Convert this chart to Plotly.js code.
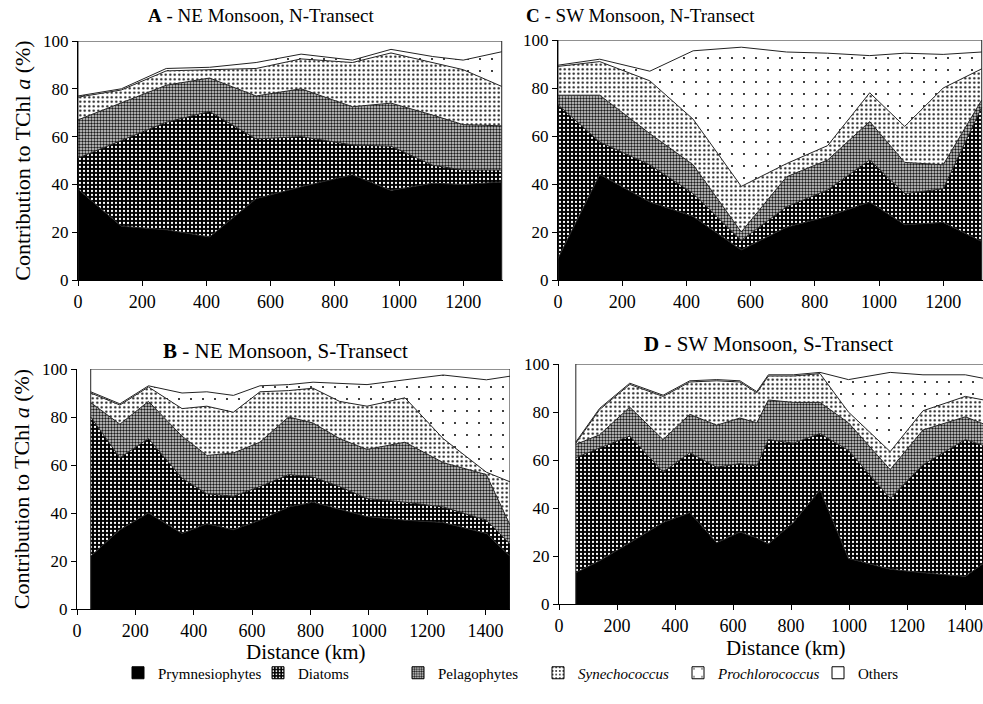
<!DOCTYPE html>
<html>
<head>
<meta charset="utf-8">
<script src="https://cdn.plot.ly/plotly-3.0.1.min.js"></script>
<style>html,body{margin:0;padding:0;background:#fff;}#chart{width:983px;height:704px;}</style>
</head>
<body>
<div id="chart"></div>
<script>
// ---------- DATA (contribution to TChl a, %) ----------
const groups = ["Prymnesiophytes", "Diatoms", "Pelagophytes", "<i>Synechococcus</i>", "<i>Prochlorococcus</i>", "Others"];

// A - NE Monsoon, N-Transect
const distA = [0, 135, 275, 410, 555, 695, 855, 975, 1105, 1200, 1320];
const prymA = [38, 22.5, 21, 18, 34, 39, 44, 37.5, 40.5, 40, 41];
const diatA = [13, 36, 45, 52.5, 25, 21, 12.5, 18.5, 7.5, 6, 5];
const pelaA = [16, 15.5, 15.5, 14, 18, 20, 16, 18, 21, 19, 18.5];
const synA  = [9.5, 5.5, 6, 3.5, 11.5, 12.5, 18.5, 21, 22, 23, 16.5];
const proA  = [0.5, 0.5, 1, 1, 2.5, 2, 1, 1.5, 2.5, 4, 14.5];
const othA  = [23, 20, 11.5, 11, 9, 5.5, 8, 3.5, 6.5, 8, 4.5];

// C - SW Monsoon, N-Transect
const distC = [0, 130, 286, 421, 571, 712, 840, 971, 1080, 1200, 1320];
const prymC = [9, 44, 32.5, 26.5, 12.5, 22, 26.5, 32.5, 23, 24, 16];
const diatC = [64, 13.5, 15.5, 9.5, 4, 8.5, 11, 17.5, 13, 14, 56];
const pelaC = [4, 19.5, 13, 12, 3.5, 12.5, 12.5, 16, 13, 10, 3];
const synC  = [12, 14, 22, 19, 19, 5.5, 6, 12, 15, 32, 13];
const proC  = [0.5, 1, 4, 28.5, 58, 46.5, 38.5, 15.5, 30.5, 14, 7];
const othC  = [10.5, 8, 13, 4.5, 3, 5, 5.5, 6.5, 5.5, 6, 5];

// B - NE Monsoon, S-Transect
const distB = [47, 147, 245, 360, 445, 536, 627, 725, 809, 900, 994, 1124, 1255, 1403, 1484];
const prymB = [22, 33, 40, 31.5, 35.5, 33, 37, 42.5, 44.5, 41.5, 38.5, 37, 36, 31.5, 22];
const diatB = [58, 30, 31, 23, 12.5, 14, 14, 13.5, 10.5, 9.5, 7.5, 7.5, 6.5, 5.5, 5];
const pelaB = [6, 14, 15.5, 17.5, 16, 18, 18.5, 24, 22.5, 20, 20.5, 25, 18.5, 19, 8];
const synB  = [4, 8, 6, 11.5, 20.5, 17, 21, 11, 14.5, 15.5, 18, 18.5, 10, 1, 18];
const proB  = [0.5, 0.5, 0.5, 6.5, 6, 7, 2.5, 2.5, 2.5, 7.5, 9, 7.5, 26.5, 38.5, 44];
const othB  = [9.5, 14.5, 7, 10, 9.5, 11, 7, 6.5, 5.5, 6, 6.5, 4.5, 2.5, 4.5, 3];

// D - SW Monsoon, S-Transect
const distD = [58, 140, 244, 359, 451, 544, 624, 682, 722, 808, 900, 998, 1142, 1255, 1401, 1465];
const prymD = [13, 18, 25.5, 34, 38, 25.5, 30, 27.5, 25, 34, 47.5, 19, 14.5, 13, 11.5, 17];
const diatD = [48, 47, 44.5, 21, 25, 31.5, 28.5, 30, 43.5, 33, 23.5, 45, 29.5, 45, 57, 49];
const pelaD = [5.5, 5.5, 12, 13.5, 16, 17.5, 19, 18, 16.5, 17, 13, 11.5, 12, 14.5, 9.5, 9];
const synD  = [0.5, 10.5, 9.5, 18, 13.5, 18.5, 15, 12.5, 10, 11, 12, 4.5, 7.5, 8, 8.5, 10];
const proD  = [0.5, 0.5, 0.5, 0.5, 0.5, 0.5, 0.5, 0.5, 0.5, 0.5, 0.5, 13.5, 33, 15, 9, 9];
const othD  = [32.5, 18.5, 8, 13, 7, 6.5, 7, 11.5, 4.5, 4.5, 3.5, 6.5, 3.5, 4.5, 4.5, 6];

const xTicks = [0, 200, 400, 600, 800, 1000, 1200, 1400];
const yTicks = [0, 20, 40, 60, 80, 100];

// ---------- STYLES ----------
const W = 983, H = 704;
const serif = "Liberation Serif, Times New Roman, serif";
const pats = [
  {color: "#000000", pattern: null},
  {color: "#000000", pattern: {shape: ".", bgcolor: "#000000", fgcolor: "#ffffff", size: 4, solidity: 0.25}},
  {color: "#888888", pattern: {shape: ".", bgcolor: "#dcdcdc", fgcolor: "#1a1a1a", size: 3, solidity: 0.5}},
  {color: "#cccccc", pattern: {shape: ".", bgcolor: "#ffffff", fgcolor: "#111111", size: 4.5, solidity: 0.2}},
  {color: "#ffffff", pattern: {shape: ".", bgcolor: "#ffffff", fgcolor: "#111111", size: 12, solidity: 0.025}},
  {color: "#ffffff", pattern: null}
];

const panels = [
  {id: "A", xa: "x",  ya: "y",  dist: distA, series: [prymA, diatA, pelaA, synA, proA, othA]},
  {id: "C", xa: "x2", ya: "y2", dist: distC, series: [prymC, diatC, pelaC, synC, proC, othC]},
  {id: "B", xa: "x3", ya: "y3", dist: distB, series: [prymB, diatB, pelaB, synB, proB, othB]},
  {id: "D", xa: "x4", ya: "y4", dist: distD, series: [prymD, diatD, pelaD, synD, proD, othD]}
];

const traces = [];
panels.forEach(p => {
  p.series.forEach((vals, i) => {
    const t = {
      type: "scatter", mode: "lines", x: p.dist, y: vals,
      xaxis: p.xa, yaxis: p.ya, stackgroup: p.id, name: groups[i],
      showlegend: false, fillcolor: pats[i].color,
      line: {color: "#222222", width: 1}, hoverinfo: "skip"
    };
    if (pats[i].pattern) t.fillpattern = pats[i].pattern;
    traces.push(t);
  });
  // outline of the stacked block at first and last stations
  const total = p.series.reduce((acc, s) => acc + s[0], 0);
  const last = p.dist.length - 1;
  const totalLast = p.series.reduce((acc, s) => acc + s[last], 0);
  traces.push({type: "scatter", mode: "lines", x: [p.dist[0], p.dist[0]], y: [0, total],
    xaxis: p.xa, yaxis: p.ya, showlegend: false, line: {color: "#222222", width: 1}, hoverinfo: "skip"});
  traces.push({type: "scatter", mode: "lines", x: [p.dist[last], p.dist[last]], y: [0, totalLast],
    xaxis: p.xa, yaxis: p.ya, showlegend: false, line: {color: "#222222", width: 1}, hoverinfo: "skip"});
});

// legend entries: zero-height bars on a hidden axis, carrying the fill patterns
groups.forEach((g, i) => {
  const m = {color: pats[i].color, line: {color: "#000", width: 1}};
  if (pats[i].pattern) m.pattern = pats[i].pattern;
  traces.push({type: "bar", x: [g], y: [0], name: g, xaxis: "x5", yaxis: "y5",
    marker: m, showlegend: true, hoverinfo: "skip"});
});

function dom(a, b, size) { return [a / size, b / size]; }
function ydom(top, bottom) { return [1 - bottom / H, 1 - top / H]; }

function xax(d, range) {
  return {domain: dom(d[0], d[1], W), range: range, tickvals: xTicks, ticktext: xTicks.map(String),
    showline: true, linecolor: "#000", linewidth: 1, ticks: "outside", ticklen: 5, tickcolor: "#000",
    ticklabeloverflow: "allow",
    showgrid: false, zeroline: false, tickfont: {family: serif, size: 18, color: "#000"}, fixedrange: true};
}
function yax(d, anchor, title) {
  const o = {domain: ydom(d[0], d[1]), range: [0, 100], tickvals: yTicks, ticktext: yTicks.map(String),
    anchor: anchor, showline: true, linecolor: "#000", linewidth: 1, ticks: "outside", ticklen: 5, tickcolor: "#000",
    showgrid: false, zeroline: false, tickfont: {family: serif, size: 17, color: "#000"}, fixedrange: true};
  if (title) o.title = {text: title, font: {family: serif, size: 22, color: "#000"}, standoff: 6};
  return o;
}

const ytitle = "Contribution to TChl <i>a</i> (%)";
const layout = {
  width: W, height: H, margin: {l: 0, r: 0, t: 0, b: 0}, paper_bgcolor: "#fff", plot_bgcolor: "#fff",
  font: {family: serif, color: "#000"},
  xaxis:  Object.assign(xax([78, 503], [0, 1324]), {anchor: "y"}),
  yaxis:  yax([41, 280], "x", ytitle),
  xaxis2: Object.assign(xax([558, 983], [0, 1324]), {anchor: "y2"}),
  yaxis2: yax([40, 280], "x2"),
  xaxis3: Object.assign(xax([77, 510], [0, 1484]), {anchor: "y3"}),
  yaxis3: yax([369, 609], "x3", ytitle),
  xaxis4: Object.assign(xax([559, 983], [0, 1462]), {anchor: "y4"}),
  yaxis4: yax([364, 604], "x4"),
  xaxis5: {domain: [0, 0.005], visible: false, anchor: "y5", fixedrange: true},
  yaxis5: {domain: [0, 0.005], visible: false, anchor: "x5", range: [1, 2], fixedrange: true},
  showlegend: true,
  legend: {orientation: "h", x: 118 / W, xanchor: "left", y: 1 - 673 / H, yanchor: "middle",
    entrywidth: 95, entrywidthmode: "pixels",
    font: {family: serif, size: 15, color: "#000"}, traceorder: "normal", bgcolor: "rgba(0,0,0,0)"},
  annotations: [
    {text: "<b>A</b> - NE Monsoon, N-Transect", x: 261 / W, y: 1 - 15 / H, size: 19},
    {text: "<b>C</b> - SW Monsoon, N-Transect", x: 640 / W, y: 1 - 15 / H, size: 19},
    {text: "<b>B</b> - NE Monsoon, S-Transect", x: 285 / W, y: 1 - 351 / H, size: 21},
    {text: "<b>D</b> - SW Monsoon, S-Transect", x: 768 / W, y: 1 - 344 / H, size: 21},
    {text: "Distance (km)", x: 306 / W, y: 1 - 652 / H, size: 21},
    {text: "Distance (km)", x: 786 / W, y: 1 - 648 / H, size: 21}
  ].map(a => ({text: a.text, x: a.x, y: a.y, xref: "paper", yref: "paper", xanchor: "center", yanchor: "middle",
    showarrow: false, font: {family: serif, size: a.size, color: "#000"}}))
};

Plotly.newPlot("chart", traces, layout, {displayModeBar: false, staticPlot: true});
</script>
</body>
</html>
